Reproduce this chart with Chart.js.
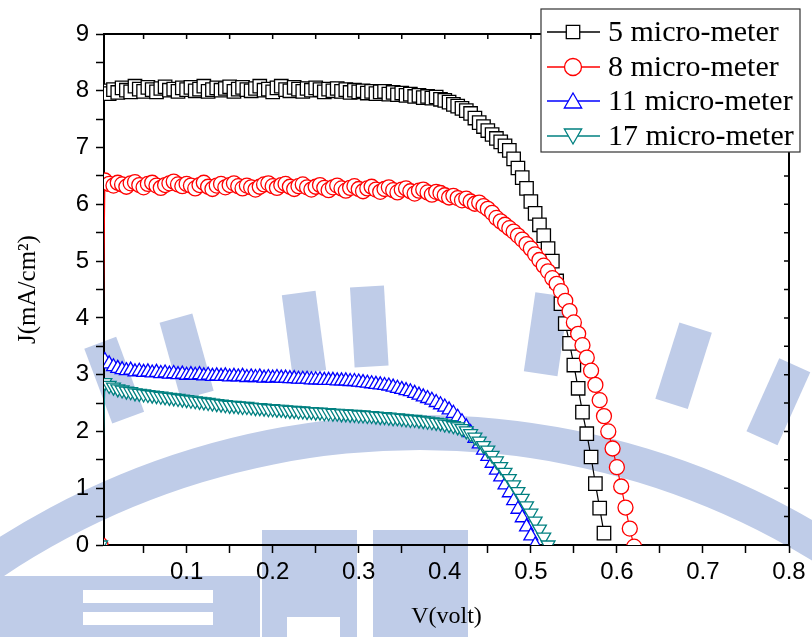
<!DOCTYPE html>
<html>
<head>
<meta charset="utf-8">
<script src="https://cdn.jsdelivr.net/npm/chart.js@4.4.1/dist/chart.umd.min.js"></script>
<style>
  html, body { margin: 0; padding: 0; background: #fff; }
  #wrap { width: 812px; height: 637px; }
</style>
</head>
<body>
<div id="wrap"><canvas id="jvChart" width="812" height="637"></canvas></div>
<script>
// applied voltage (V), shared by all four curves
const voltage = [0, 0.005, 0.01, 0.015, 0.02, 0.025, 0.03, 0.035, 0.04, 0.045,
    0.05, 0.055, 0.06, 0.065, 0.07, 0.075, 0.08, 0.085, 0.09, 0.095,
    0.1, 0.105, 0.11, 0.115, 0.12, 0.125, 0.13, 0.135, 0.14, 0.145,
    0.15, 0.155, 0.16, 0.165, 0.17, 0.175, 0.18, 0.185, 0.19, 0.195,
    0.2, 0.205, 0.21, 0.215, 0.22, 0.225, 0.23, 0.235, 0.24, 0.245,
    0.25, 0.255, 0.26, 0.265, 0.27, 0.275, 0.28, 0.285, 0.29, 0.295,
    0.3, 0.305, 0.31, 0.315, 0.32, 0.325, 0.33, 0.335, 0.34, 0.345,
    0.35, 0.355, 0.36, 0.365, 0.37, 0.375, 0.38, 0.385, 0.39, 0.395,
    0.4, 0.405, 0.41, 0.415, 0.42, 0.425, 0.43, 0.435, 0.44, 0.445,
    0.45, 0.455, 0.46, 0.465, 0.47, 0.475, 0.48, 0.485, 0.49, 0.495,
    0.5, 0.505, 0.51, 0.515, 0.52, 0.525, 0.53, 0.535, 0.54, 0.545,
    0.55, 0.555, 0.56, 0.565, 0.57, 0.575, 0.58, 0.585, 0.59, 0.595,
    0.6, 0.605, 0.61, 0.615, 0.62];

// current density J (mA/cm2), same index as voltage
const j5um = [null,
    8.00, 7.95, 8.02, 7.97, 8.05, 8.01, 7.98, 8.08, 8.03, 7.99, 8.06, 8.02, 7.98, 8.04, 8.07, 8.01, 8.03, 7.99, 8.05, 8.02,
    8.06, 8.00, 8.03, 8.08, 7.99, 8.02, 8.05, 8.01, 8.04, 8.07, 7.99, 8.03, 8.06, 8.02, 8.00, 8.04, 8.08, 8.01, 8.03, 7.98,
    8.05, 8.08, 8.02, 8.00, 8.06, 8.03, 7.99, 8.04, 8.01, 8.05, 8.02, 7.98, 8.03, 8.00, 8.04, 7.99, 8.02, 7.97, 8.01, 7.98,
    8.00, 7.96, 7.99, 7.95, 7.98, 7.99, 7.94, 7.97, 7.93, 7.96, 7.92, 7.94, 7.90, 7.92, 7.88, 7.90, 7.87, 7.89, 7.85, 7.83,
    7.80, 7.76, 7.73, 7.69, 7.65, 7.60, 7.52, 7.44, 7.37, 7.30, 7.23, 7.16, 7.10, 7.03, 6.95, 6.80, 6.64, 6.47, 6.28, 6.05,
    5.84, 5.64, 5.45, 5.22, 5.00, 4.65, 4.25, 3.90, 3.55, 3.17, 2.76, 2.34, 1.96, 1.55, 1.08, 0.65, 0.21];

const j8um = [0,
    6.42, 6.36, 6.33, 6.38, 6.35, 6.31, 6.37, 6.39, 6.34, 6.30, 6.36, 6.38, 6.33, 6.29, 6.34, 6.37, 6.40, 6.35, 6.32, 6.36,
    6.33, 6.28, 6.34, 6.38, 6.31, 6.27, 6.33, 6.36, 6.30, 6.34, 6.37, 6.32, 6.28, 6.33, 6.30, 6.26, 6.31, 6.35, 6.37, 6.32,
    6.29, 6.34, 6.36, 6.31, 6.27, 6.32, 6.35, 6.30, 6.26, 6.31, 6.34, 6.29, 6.25, 6.30, 6.33, 6.28, 6.24, 6.29, 6.32, 6.27,
    6.23, 6.28, 6.31, 6.26, 6.22, 6.27, 6.30, 6.25, 6.21, 6.26, 6.28, 6.23, 6.19, 6.24, 6.26, 6.21, 6.17, 6.22, 6.20, 6.16,
    6.12, 6.15, 6.11, 6.07, 6.10, 6.05, 6.01, 6.03, 5.97, 5.92, 5.85, 5.76, 5.70, 5.64, 5.58, 5.52, 5.45, 5.38, 5.30, 5.22,
    5.12, 5.02, 4.92, 4.82, 4.70, 4.60, 4.47, 4.30, 4.12, 3.92, 3.72, 3.52, 3.30, 3.07, 2.82, 2.55, 2.27, 2.00, 1.70, 1.37,
    1.03, 0.66, 0.29, -0.03];

const j11um = [null,
    3.25, 3.19, 3.14, 3.11, 3.09, 3.07, 3.08, 3.05, 3.06, 3.04, 3.05, 3.03, 3.04, 3.02, 3.03, 3.01, 3.02, 3.00, 3.01, 2.99,
    3.00, 2.99, 3.00, 2.98, 2.99, 2.97, 2.98, 2.97, 2.98, 2.96, 2.97, 2.96, 2.97, 2.95, 2.96, 2.95, 2.96, 2.94, 2.95, 2.94,
    2.95, 2.94, 2.94, 2.93, 2.93, 2.92, 2.92, 2.92, 2.91, 2.91, 2.91, 2.90, 2.90, 2.90, 2.89, 2.89, 2.89, 2.88, 2.88, 2.87,
    2.86, 2.85, 2.84, 2.83, 2.82, 2.81, 2.80, 2.78, 2.76, 2.74, 2.72, 2.70, 2.67, 2.64, 2.61, 2.58, 2.55, 2.51, 2.47, 2.43,
    2.38, 2.32, 2.25, 2.17, 2.08, 1.98, 1.88, 1.78, 1.67, 1.56, 1.44, 1.32, 1.20, 1.06, 0.92, 0.78, 0.63, 0.48, 0.32, 0.16,
    0.00];

const j17um = [0,
    2.86, 2.81, 2.78, 2.75, 2.73, 2.71, 2.70, 2.68, 2.67, 2.66, 2.65, 2.64, 2.63, 2.62, 2.61, 2.60, 2.59, 2.58, 2.57, 2.56,
    2.55, 2.54, 2.53, 2.52, 2.51, 2.50, 2.49, 2.48, 2.47, 2.46, 2.46, 2.45, 2.44, 2.44, 2.43, 2.42, 2.42, 2.41, 2.40, 2.40,
    2.39, 2.39, 2.38, 2.37, 2.37, 2.36, 2.36, 2.35, 2.35, 2.34, 2.34, 2.33, 2.33, 2.32, 2.32, 2.31, 2.31, 2.30, 2.30, 2.29,
    2.29, 2.28, 2.28, 2.27, 2.26, 2.26, 2.25, 2.24, 2.24, 2.23, 2.22, 2.21, 2.21, 2.20, 2.19, 2.18, 2.17, 2.16, 2.15, 2.13,
    2.12, 2.10, 2.08, 2.05, 2.01, 1.96, 1.90, 1.83, 1.75, 1.67, 1.58, 1.48, 1.38, 1.28, 1.17, 1.06, 0.94, 0.82, 0.69, 0.56,
    0.42, 0.28, 0.14, 0.00];

const seriesNames = ['5 micro-meter', '8 micro-meter', '11 micro-meter', '17 micro-meter'];
const xTicks = [0.05, 0.1, 0.15, 0.2, 0.25, 0.3, 0.35, 0.4, 0.45, 0.5, 0.55, 0.6, 0.65, 0.7, 0.75, 0.8];
const xLabels = [0.1, 0.2, 0.3, 0.4, 0.5, 0.6, 0.7, 0.8];
const yTicks = [0, 0.5, 1, 1.5, 2, 2.5, 3, 3.5, 4, 4.5, 5, 5.5, 6, 6.5, 7, 7.5, 8, 8.5, 9];
const yLabels = [0, 1, 2, 3, 4, 5, 6, 7, 8, 9];

function pairUp(ys) {
    const pts = [];
    ys.forEach((y, i) => {
        if (y !== null && y !== undefined) pts.push({ x: voltage[i], y: y });
    });
    return pts;
}

function makeSet(label, ys, color, style, radius, rot, order) {
    return {
        label: label,
        data: pairUp(ys),
        borderColor: color,
        backgroundColor: '#fff',
        borderWidth: 1.2,
        pointStyle: style,
        pointRotation: rot,
        pointRadius: radius,
        pointBorderWidth: 1.3,
        pointBackgroundColor: '#fff',
        pointBorderColor: color,
        showLine: true,
        tension: 0,
        order: order
    };
}

// light blue watermark behind the plot (rough)
const watermark = {
    id: 'watermark',
    beforeDraw(chart) {
        const ctx = chart.ctx;
        const cx = 420, cy = 1200;
        ctx.save();
        ctx.fillStyle = '#fff';
        ctx.fillRect(0, 0, chart.width, chart.height);
        ctx.fillStyle = '#bfcce8';
        // ring band
        ctx.beginPath();
        ctx.arc(cx, cy, 785, 0, Math.PI * 2);
        ctx.arc(cx, cy, 750, 0, Math.PI * 2, true);
        ctx.fill('evenodd');
        // teeth outside the ring
        [-0.357, -0.27, -0.133, -0.058, 0.145, 0.306, 0.422].forEach(a => {
            ctx.save();
            ctx.translate(cx, cy);
            ctx.rotate(a);
            ctx.fillRect(-17, -915, 34, 80);
            ctx.restore();
        });
        // lower blocks
        ctx.fillRect(0, 576, 260, 61);
        ctx.fillRect(262, 530, 95, 107);
        ctx.fillRect(373, 530, 95, 107);
        ctx.fillStyle = '#fff';
        ctx.fillRect(83, 590, 130, 13);
        ctx.fillRect(83, 612, 130, 13);
        ctx.fillRect(287, 617, 53, 20);
        ctx.restore();
    }
};

// top/right frame lines with inward ticks, and the boxed legend
const frameAndLegend = {
    id: 'frameAndLegend',
    afterDraw(chart) {
        const ctx = chart.ctx;
        const a = chart.chartArea;
        const xs = chart.scales.x, ys = chart.scales.y;
        ctx.save();
        ctx.strokeStyle = '#000';
        ctx.lineWidth = 2;
        ctx.beginPath();
        ctx.moveTo(a.left - 1, a.top);
        ctx.lineTo(a.right + 1, a.top);
        ctx.moveTo(a.right, a.top);
        ctx.lineTo(a.right, a.bottom);
        ctx.stroke();
        ctx.lineWidth = 1.5;
        ctx.beginPath();
        xTicks.forEach(v => {
            const px = xs.getPixelForValue(v);
            ctx.moveTo(px, a.top);
            ctx.lineTo(px, a.top + 5);
        });
        yTicks.forEach(v => {
            const py = ys.getPixelForValue(v);
            ctx.moveTo(a.right, py);
            ctx.lineTo(a.right - 5, py);
        });
        ctx.stroke();

        // legend box
        const bx = 541, by = 9, bw = 259, bh = 143;
        ctx.fillStyle = '#fff';
        ctx.fillRect(bx, by, bw, bh);
        ctx.lineWidth = 1.2;
        ctx.strokeStyle = '#333';
        ctx.strokeRect(bx, by, bw, bh);
        const rowY = [32, 67, 101, 136];
        const legendRadius = [9.5, 8.5, 10, 10];
        chart.data.datasets.forEach((ds, i) => {
            const y = rowY[i];
            ctx.strokeStyle = ds.borderColor;
            ctx.lineWidth = 1.3;
            ctx.beginPath();
            ctx.moveTo(547, y);
            ctx.lineTo(600, y);
            ctx.stroke();
            ctx.fillStyle = '#fff';
            Chart.helpers.drawPoint(ctx, {
                pointStyle: ds.pointStyle,
                rotation: ds.pointRotation,
                radius: legendRadius[i],
                borderWidth: 1.3
            }, 573, ds.pointRotation ? y - 2 : (ds.pointStyle === 'triangle' ? y + 2 : y));
            ctx.fillStyle = '#000';
            ctx.font = '30px "Liberation Serif"';
            ctx.textBaseline = 'middle';
            ctx.textAlign = 'left';
            ctx.fillText(ds.label, 608, y + 1);
        });
        ctx.restore();
    }
};

const ctx = document.getElementById('jvChart').getContext('2d');
new Chart(ctx, {
    type: 'scatter',
    data: {
        datasets: [
            makeSet(seriesNames[0], j5um, '#000000', 'rect', 9.5, 0, 4),
            makeSet(seriesNames[1], j8um, '#ff0000', 'circle', 7.5, 0, 3),
            makeSet(seriesNames[2], j11um, '#0000ff', 'triangle', 8, 0, 2),
            makeSet(seriesNames[3], j17um, '#008080', 'triangle', 8, 180, 1)
        ]
    },
    plugins: [watermark, frameAndLegend],
    options: {
        responsive: false,
        animation: false,
        layout: { padding: { left: 0, right: 23, top: 34, bottom: 0 } },
        plugins: {
            legend: { display: false },
            tooltip: { enabled: false }
        },
        scales: {
            x: {
                type: 'linear',
                min: 0.004,
                max: 0.8,
                afterBuildTicks: s => { s.ticks = xTicks.map(v => ({ value: v })); },
                afterFit: s => { s.height = 92; },
                border: { display: true, color: '#000', width: 2 },
                grid: { drawOnChartArea: false, tickLength: 8, tickWidth: 1.5, tickColor: '#000' },
                ticks: {
                    autoSkip: false,
                    maxRotation: 0,
                    color: '#000',
                    padding: 5,
                    font: { family: 'Liberation Sans', size: 24 },
                    callback: v => xLabels.some(l => Math.abs(l - v) < 1e-6) ? String(Math.round(v * 10) / 10) : ''
                },
                title: {
                    display: true,
                    text: 'V(volt)',
                    color: '#000',
                    font: { family: 'Liberation Serif', size: 24 },
                    padding: { top: 0, bottom: 6 }
                }
            },
            y: {
                type: 'linear',
                min: 0,
                max: 9,
                afterBuildTicks: s => { s.ticks = yTicks.map(v => ({ value: v })); },
                afterFit: s => { s.width = 104; },
                border: { display: true, color: '#000', width: 2 },
                grid: { drawOnChartArea: false, tickLength: 8, tickWidth: 1.5, tickColor: '#000' },
                ticks: {
                    autoSkip: false,
                    color: '#000',
                    padding: 7,
                    font: { family: 'Liberation Sans', size: 24 },
                    callback: v => yLabels.includes(v) ? String(v) : ''
                },
                title: {
                    display: true,
                    text: 'J(mA/cm²)',
                    color: '#000',
                    font: { family: 'Liberation Serif', size: 25 },
                    padding: { top: 13, bottom: 0 }
                }
            }
        }
    }
});
</script>
</body>
</html>
